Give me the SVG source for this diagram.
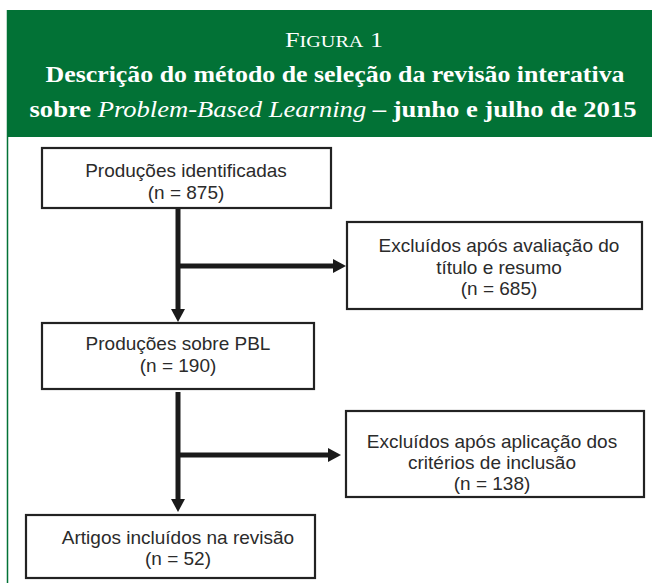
<svg xmlns="http://www.w3.org/2000/svg" width="652" height="583" viewBox="0 0 652 583">
<defs>
<style>
.hdr{fill:#ffffff;font-family:"Liberation Serif","DejaVu Serif",serif;}
.box{fill:#ffffff;stroke:#222222;stroke-width:2.2;}
.lbl{fill:#2b2b2b;font-family:"Liberation Sans",Arial,sans-serif;font-size:19px;text-anchor:middle;}
.conn{stroke:#1a1a1a;stroke-width:5;fill:none;}
.head{fill:#1a1a1a;}
</style>
</defs>
<rect x="0" y="0" width="652" height="583" fill="#ffffff"/>
<g id="header">
<rect x="7" y="10" width="645" height="127" fill="#027236"/>
<line x1="7.5" y1="10" x2="7.5" y2="583" stroke="#027236" stroke-width="1.5"/>
<text class="hdr" x="334" y="47" text-anchor="middle" font-size="22" textLength="98" lengthAdjust="spacingAndGlyphs"><tspan>F</tspan><tspan font-size="17">IGURA</tspan><tspan> 1</tspan></text>
<text class="hdr" x="335" y="82" text-anchor="middle" font-size="24" font-weight="bold" textLength="579" lengthAdjust="spacingAndGlyphs">Descrição do método de seleção da revisão interativa</text>
<text class="hdr" x="333" y="117" text-anchor="middle" font-size="24" font-weight="bold" textLength="607" lengthAdjust="spacingAndGlyphs">sobre <tspan font-style="italic" font-weight="normal">Problem-Based Learning</tspan> – junho e julho de 2015</text>
</g>
<g id="connectors">
<line class="conn" x1="178" y1="209" x2="178" y2="311"/>
<polygon class="head" points="171,309 185,309 178,322"/>
<line class="conn" x1="178" y1="266" x2="335" y2="266"/>
<polygon class="head" points="333,259 333,273 346,266"/>
<line class="conn" x1="178" y1="392" x2="178" y2="501"/>
<polygon class="head" points="171,499 185,499 178,512"/>
<line class="conn" x1="178" y1="455" x2="330" y2="455"/>
<polygon class="head" points="328,448 328,462 341,455"/>
</g>
<g id="n1">
<rect class="box" x="42" y="148" width="289" height="60"/>
<text class="lbl" x="186" y="177">Produções identificadas</text>
<text class="lbl" x="186" y="199">(n = 875)</text>
</g>
<g id="n2">
<rect class="box" x="347" y="222" width="295" height="87"/>
<text class="lbl" x="499" y="252">Excluídos após avaliação do</text>
<text class="lbl" x="499" y="274">título e resumo</text>
<text class="lbl" x="499" y="295">(n = 685)</text>
</g>
<g id="n3">
<rect class="box" x="42" y="323" width="272" height="66"/>
<text class="lbl" x="178" y="350">Produções sobre PBL</text>
<text class="lbl" x="178" y="372">(n = 190)</text>
</g>
<g id="n4">
<rect class="box" x="346" y="411" width="298" height="86"/>
<text class="lbl" x="492" y="448">Excluídos após aplicação dos</text>
<text class="lbl" x="492" y="469">critérios de inclusão</text>
<text class="lbl" x="492" y="490">(n = 138)</text>
</g>
<g id="n5">
<rect class="box" x="26" y="515" width="289" height="63"/>
<text class="lbl" x="178" y="544">Artigos incluídos na revisão</text>
<text class="lbl" x="178" y="565">(n = 52)</text>
</g>
</svg>
